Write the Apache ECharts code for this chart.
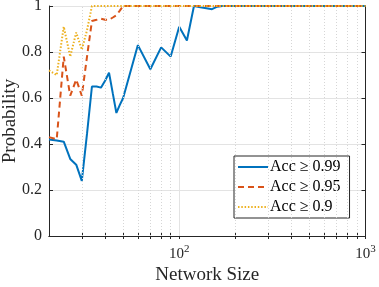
<!DOCTYPE html>
<html>
<head>
<meta charset="utf-8">
<script src="https://cdn.jsdelivr.net/npm/echarts@6/dist/echarts.min.js"></script>
<style>
html,body{margin:0;padding:0;background:#fff;}
#chart{width:379px;height:287px;}
</style>
</head>
<body>
<div id="chart"></div>
<script>
// ---- data ----
const sizes = [20,22,24,26,28,30,32,34,36,38,40,42,44,46,48,50,
               60,70,80,90,100,110,120,130,140,150,160,170,180,190,200,
               300,400,500,600,700,800,900,1000];
const acc099 = [0.42,0.415,0.41,0.335,0.31,0.24,0.445,0.65,0.65,0.645,0.675,0.71,0.62,0.535,0.57,0.60,
                0.83,0.725,0.82,0.78,0.91,0.85,1.0,0.994,0.99,0.986,0.997,1,1,1,1,
                1,1,1,1,1,1,1,1];
const acc095 = [0.43,0.42,0.78,0.61,0.68,0.61,0.78,0.935,0.94,0.945,0.94,0.94,0.95,0.96,0.98,1.0,
                1,1,1,1,1,1,1,1,1,1,1,1,1,1,1,
                1,1,1,1,1,1,1,1];
const acc090 = [0.72,0.70,0.91,0.78,0.885,0.81,0.895,1.0,1,1,1,1,1,1,1,1,
                1,1,1,1,1,1,1,1,1,1,1,1,1,1,1,
                1,1,1,1,1,1,1,1];
const seriesNames = ['Acc \u2265 0.99','Acc \u2265 0.95','Acc \u2265 0.9'];
const xTickLabels = [100, 1000];
const xMinorGrid = [30,40,50,60,70,80,90,200,300,400,500,600,700,800,900];
const xTicks = [30,40,50,60,70,80,90,100,200,300,400,500,600,700,800,900,1000];

const FONT = 'Liberation Serif';
const AX = '#262626';
const pairs = arr => sizes.map((s,i)=>[s,arr[i]]);

const chart = echarts.init(document.getElementById('chart'), null, {renderer:'canvas'});
const xBase = {
  type:'log', logBase:10, min:20, max:1000,
  axisLine:{show:true, lineStyle:{color:AX, width:1}},
  axisTick:{show:true, inside:true, length:3, customValues:xTicks, lineStyle:{color:AX}},
  splitLine:{show:false},
  minorTick:{show:false}
};
const yBase = {
  type:'value', min:0, max:1, interval:0.2,
  axisLine:{show:true, lineStyle:{color:AX, width:1}},
  axisTick:{show:true, inside:true, length:4, lineStyle:{color:AX}},
};
chart.setOption({
  animation:false,
  backgroundColor:'#fff',
  grid:{left:49, right:13.5, top:6, bottom:51, show:false, containLabel:false, outerBoundsMode:'none'},
  xAxis:[
    Object.assign({}, xBase, {
      position:'bottom',
      name:'Network Size', nameLocation:'middle', nameGap:30, nameMoveOverlap:false,
      nameTextStyle:{fontFamily:FONT, fontSize:19, color:AX},
      axisLabel:{show:true, customValues:xTickLabels, margin:8,
        fontFamily:FONT, fontSize:15, color:AX,
        formatter:v=>'10{sup|'+Math.round(Math.log10(v))+'}',
        rich:{sup:{fontFamily:FONT, fontSize:11, color:AX, verticalAlign:'bottom', padding:[0,0,9,0]}}}
    }),
    Object.assign({}, xBase, {position:'top', axisLabel:{show:false}})
  ],
  yAxis:[
    Object.assign({}, yBase, {
      position:'left',
      name:'Probability', nameLocation:'middle', nameGap:29, nameRotate:90, nameMoveOverlap:false,
      nameTextStyle:{fontFamily:FONT, fontSize:19, color:AX},
      axisLabel:{show:true, margin:7, fontFamily:FONT, fontSize:16, color:AX},
      splitLine:{show:true, lineStyle:{color:'#e3e3e3', width:1}}
    }),
    Object.assign({}, yBase, {position:'right', axisLabel:{show:false}, splitLine:{show:false}})
  ],
  legend:{
    orient:'vertical', left:234, top:156,
    backgroundColor:'#fff', borderColor:AX, borderWidth:1, borderRadius:0,
    padding:[3,9,3,3], itemGap:4, itemWidth:30, itemHeight:14,
    itemStyle:{opacity:0},
    textStyle:{fontFamily:FONT, fontSize:16, color:'#000', lineHeight:16, padding:[0,0,0,-3]},
    data:seriesNames
  },
  series:[
    {
      name:'grid-minor', type:'line', data:[], silent:true, z:1,
      markLine:{silent:true, symbol:['none','none'], label:{show:false}, animation:false,
        lineStyle:{color:'#d6d6d6', type:[1,2], width:1},
        data:xMinorGrid.map(v=>({xAxis:v}))}
    },
    {
      name:'grid-major', type:'line', data:[], silent:true, z:1,
      markLine:{silent:true, symbol:['none','none'], label:{show:false}, animation:false,
        lineStyle:{color:'#e3e3e3', type:'solid', width:1},
        data:[{xAxis:100}]}
    },
    {name:seriesNames[0], type:'line', data:pairs(acc099), showSymbol:false, symbol:'none',
     color:'#0072BD', lineStyle:{width:2, color:'#0072BD', type:'solid'}, z:3},
    {name:seriesNames[1], type:'line', data:pairs(acc095), showSymbol:false, symbol:'none',
     color:'#D95319', lineStyle:{width:2, color:'#D95319', type:[6,4]}, z:4},
    {name:seriesNames[2], type:'line', data:pairs(acc090), showSymbol:false, symbol:'none',
     color:'#EDB120', lineStyle:{width:2, color:'#EDB120', type:[1.5,1.8]}, z:5}
  ]
});
</script>
</body>
</html>
